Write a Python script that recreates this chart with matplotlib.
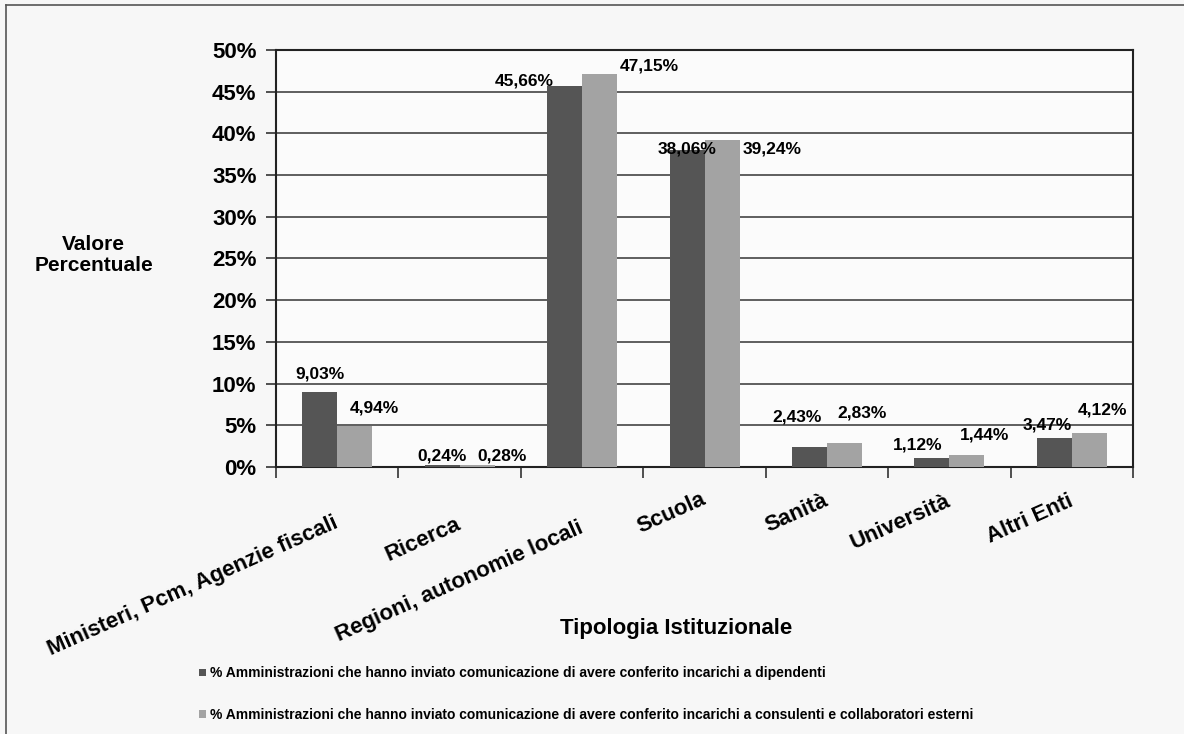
import matplotlib.pyplot as plt
import matplotlib.ticker as ticker
from matplotlib.lines import Line2D
import numpy as np

plt.rcParams['font.family'] = ['Liberation Sans', 'DejaVu Sans']
plt.rcParams['font.weight'] = 'bold'

# data
categories = ['Ministeri, Pcm, Agenzie fiscali', 'Ricerca', 'Regioni, autonomie locali',
              'Scuola', 'Sanità', 'Università', 'Altri Enti']
dipendenti = [9.03, 0.24, 45.66, 38.06, 2.43, 1.12, 3.47]
consulenti = [4.94, 0.28, 47.15, 39.24, 2.83, 1.44, 4.12]
dip_labels = ['9,03%', '0,24%', '45,66%', '38,06%', '2,43%', '1,12%', '3,47%']
cons_labels = ['4,94%', '0,28%', '47,15%', '39,24%', '2,83%', '1,44%', '4,12%']
legend_labels = [
    '% Amministrazioni che hanno inviato comunicazione di avere conferito incarichi a dipendenti',
    '% Amministrazioni che hanno inviato comunicazione di avere conferito incarichi a consulenti e collaboratori esterni',
]

fig = plt.figure(figsize=(11.84, 7.34), dpi=100, facecolor='#f7f7f7')
ax = fig.add_axes([0.2331, 0.3638, 0.7239, 0.5681])
ax.set_facecolor('#fbfbfb')

x = np.arange(len(categories))
w = 0.286
b1 = ax.bar(x - w / 2, dipendenti, w, color='#555555', zorder=3)
b2 = ax.bar(x + w / 2, consulenti, w, color='#a3a3a3', zorder=3)

ax.set_xlim(-0.5, len(categories) - 0.5)
ax.set_ylim(0, 50)
ax.yaxis.set_major_locator(ticker.MultipleLocator(5))
ax.yaxis.set_major_formatter(ticker.FuncFormatter(lambda v, p: '%d%%' % v))
ax.grid(axis='y', color='#444444', linewidth=1.2, zorder=0)

for s in ax.spines.values():
    s.set_color('#222222')
    s.set_linewidth(1.5)

ax.tick_params(axis='y', labelsize=16, length=7, width=1.2, color='#333333', pad=7)
ax.set_xticks(np.arange(len(categories) + 1) - 0.5)
ax.set_xticklabels([])
ax.tick_params(axis='x', length=8, width=1.2, color='#333333')

# value labels (offsets in pixels, like the original layout)
dip_dx = [0, 0, -40, 0, -12, -14, -7]
dip_dy = [18, 9, 5, 1, 30, 13, 13]
cons_dx = [20, 25, 50, 50, 18, 18, 13]
cons_dy = [18, 9, 8, -9, 30, 20, 23]
for i in range(len(categories)):
    ax.annotate(dip_labels[i], (x[i] - w / 2, dipendenti[i]), xytext=(dip_dx[i], dip_dy[i]),
                textcoords='offset pixels', ha='center', va='center', fontsize=12.5, zorder=5)
    ax.annotate(cons_labels[i], (x[i] + w / 2, consulenti[i]), xytext=(cons_dx[i], cons_dy[i]),
                textcoords='offset pixels', ha='center', va='center', fontsize=12.5, zorder=5)

# rotated category labels
cat_pad = [55, 56, 60, 31, 33, 33, 33]
for i, c in enumerate(categories):
    ax.annotate(c, (x[i], 0), xycoords=ax.get_xaxis_transform(), xytext=(0, -cat_pad[i]),
                textcoords='offset pixels', ha='right', va='center', rotation=24,
                rotation_mode='anchor', fontsize=16, annotation_clip=False)

fig.text(0.079, 0.6526, 'Valore\nPercentuale', ha='center', va='center', fontsize=15,
         linespacing=1.15)
fig.text(0.571, 0.1444, 'Tipologia Istituzionale', ha='center', va='center', fontsize=16)

fig.legend([b1, b2], legend_labels, loc='upper left', bbox_to_anchor=(0.168, 0.092),
           frameon=False, fontsize=10, handlelength=0.5, handleheight=0.5,
           handletextpad=0.3, labelspacing=1.95, borderaxespad=0, borderpad=0)

# scan border
fig.add_artist(Line2D([6 / 1184, 6 / 1184], [0, 1 - 5 / 734], transform=fig.transFigure,
                      color='#555555', linewidth=1.2))
fig.add_artist(Line2D([6 / 1184, 1], [1 - 5 / 734, 1 - 5 / 734], transform=fig.transFigure,
                      color='#555555', linewidth=1.2))

fig.savefig('out.png', dpi=100, facecolor=fig.get_facecolor())
